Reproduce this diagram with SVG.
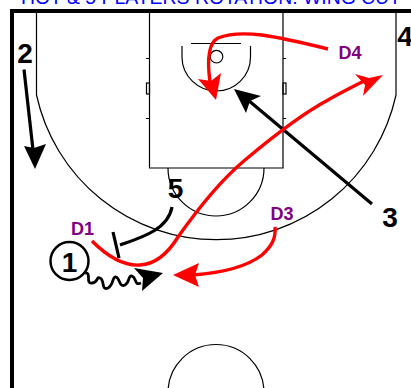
<svg xmlns="http://www.w3.org/2000/svg" width="411" height="388" viewBox="0 0 411 388">
<defs>
<style>
.c{fill:none;stroke:#000;stroke-width:1.2}
.k{fill:none;stroke:#000;stroke-width:3.200}
.r{fill:none;stroke:#f00;stroke-width:3.400}
.n{font:bold 28px "Liberation Sans",Arial,sans-serif;fill:#000;text-anchor:middle}
.d{font:bold 18px "Liberation Sans",Arial,sans-serif;fill:#800080;text-anchor:middle}
.t{font:19.4px "Liberation Sans",Arial,sans-serif;fill:#00f;text-anchor:middle}
</style>
</defs>
<rect width="411" height="388" fill="#fff"/>
<g id="court">
<path d="M12 388V11H411" fill="none" stroke="#000" stroke-width="4"/>
<path class="c" d="M36.500 11V95A184 184 0 0 0 396 95V11"/>
<path class="c" d="M149.500 11V168H283V11"/>
<path class="c" d="M168 168A48 48 0 0 0 264 168"/>
<path class="c" d="M191 43.500H241M182 46V57C182 76 198 91 216.500 91C235 91 250.500 76 250.500 57V46"/>
<circle class="c" cx="216.500" cy="56.700" r="6.300"/>
<path class="c" d="M146 58.500H149M146 118.500H149M283 58.500H286M283 118.500H286"/>
<rect class="c" x="146.500" y="83" width="3" height="11"/>
<rect class="c" x="283" y="83" width="3" height="11"/>
<path class="c" d="M168 392.500A48 48 0 0 1 264 392.500"/>
</g>
<text class="t" x="211" y="3.500">HOT &amp; 5 PLAYERS ROTATION: WING CUT</text>
<g id="connectors">
<path class="k" d="M24 69.500L33 150"/><path d="M24 146L34 148L46 144L35 169Z"/>
<path class="k" d="M372 204L248 100"/><path d="M234 89L261 96L250 101L246 113Z"/>
<path class="k" d="M172 207C168 230 140 238 120 245M113 232L119 258"/>
<path fill="none" stroke="#000" stroke-width="2.800" d="M85 273C92 272 85 284 92 283C99 282 96 276 100 278C105 280 101 291 108 288C114 285 112 276 116 277C120 278 119 288 125 285C130 282 128 275 132 276C137 278 134 286 141 283"/><path d="M134 268L163 273L142 291L143 278Z"/>
<path class="r" d="M92 241C108 257 125 266 140 265C158 264 170 250 178 237C190 220 215 185 245 160C270 139 300 115 328 100C340 93 350 88 366 80"/><path fill="#f00" d="M355 74L369 78L383 75L363 96L365 85Z"/>
<path class="r" d="M328 49C300 42 283 38 262 35C245 33 228 34 218 38C208 43 207 60 210 82"/><path fill="#f00" d="M198 79L211 81L221 73L216 100Z"/>
<path class="r" d="M275 227C276 238 272 246 262 255C245 268 220 273 193 275"/><path fill="#f00" d="M173 275L199 263L195 275L199 287Z"/>
</g>
<g id="p2"><text class="n" x="25" y="63">2</text></g>
<g id="p4"><text class="n" x="405" y="46">4</text></g>
<g id="p3"><text class="n" x="390" y="227">3</text></g>
<g id="p5"><text class="n" x="175.500" y="198">5</text></g>
<g id="p1"><circle cx="69.500" cy="261" r="19" fill="#fff" stroke="#000" stroke-width="2.500"/><text class="n" x="69.500" y="271.500">1</text></g>
<g id="d1"><text class="d" x="82.500" y="235">D1</text></g>
<g id="d3"><text class="d" x="282" y="220">D3</text></g>
<g id="d4"><text class="d" x="350" y="59">D4</text></g>
</svg>
